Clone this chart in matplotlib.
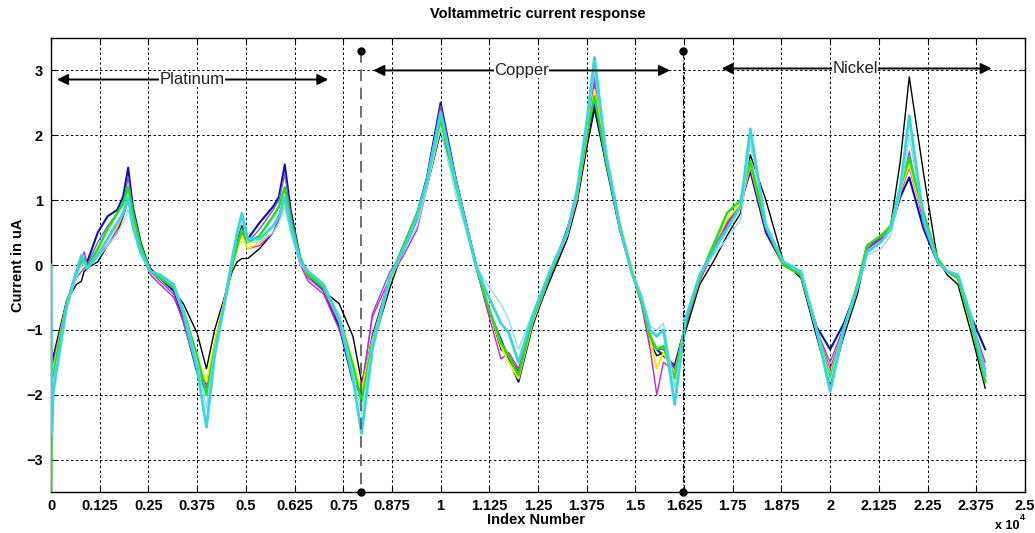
import matplotlib
matplotlib.use('Agg')
import matplotlib.pyplot as plt

plt.rcParams['font.family'] = ['Liberation Sans', 'DejaVu Sans']

# sample index breakpoints shared by every trace
index = [0, 20, 60, 400, 650, 780, 850, 930, 1200, 1450,
         1700, 1850, 1980, 2100, 2300, 2550, 2800, 3150, 3400, 3750,
         3990, 4200, 4450, 4650, 4780, 4900, 5050, 5350, 5700, 5850,
         6000, 6150, 6400, 6600, 7000, 7400, 7750, 7970, 8250, 8700,
         9050, 9400, 9650, 10000, 10400, 10900, 11200, 11550, 11750, 12000,
         12350, 12800, 13250, 13500, 13750, 13950, 14250, 14600, 14900, 15150,
         15380, 15550, 15720, 16010, 16300, 16650, 17000, 17350, 17700, 17950,
         18350, 18800, 19250, 19650, 20000, 20350, 20700, 20950, 21300, 21550,
         21800, 22030, 22400, 22750, 23000, 23280, 23620, 23980]

black = [-1.5, -1.5, -1.4, -0.55, -0.3, -0.25, -0.1, -0.05, 0.05, 0.3,
         0.5, 0.75, 1.0, 0.75, 0.3, -0.05, -0.2, -0.4, -0.6, -1.05,
         -1.6, -1.0, -0.5, -0.1, 0.05, 0.1, 0.1, 0.25, 0.5, 0.7,
         1.0, 0.7, 0.1, -0.15, -0.4, -0.6, -1.1, -1.8, -1.25, -0.35,
         0.25, 0.75, 1.2, 2.05, 1.3, 0.05, -0.6, -1.3, -1.4, -1.65,
         -0.9, -0.25, 0.4, 0.95, 1.8, 2.4, 1.55, 0.6, -0.05, -0.55,
         -1.2, -1.4, -1.35, -1.6, -1.0, -0.3, 0.05, 0.45, 0.8, 1.7,
         1.0, 0.05, -0.2, -1.1, -1.85, -1.1, -0.45, 0.25, 0.4, 0.6,
         1.6, 2.9, 1.4, 0.1, -0.15, -0.3, -1.05, -1.9]

blue = [-1.6, -1.6, -1.5, -0.6, -0.1, 0.05, 0.1, 0.05, 0.5, 0.75,
        0.85, 1.05, 1.5, 0.9, 0.35, -0.1, -0.2, -0.4, -0.85, -1.65,
        -1.95, -1.3, -0.55, 0.05, 0.35, 0.6, 0.4, 0.65, 0.9, 1.05,
        1.55, 0.85, 0.1, -0.15, -0.4, -0.95, -1.8, -2.0, -1.1, -0.2,
        0.3, 0.8, 1.35, 2.5, 1.3, 0.0, -0.65, -1.15, -1.45, -1.8,
        -0.95, -0.2, 0.55, 1.05, 1.9, 2.5, 1.55, 0.55, -0.1, -0.5,
        -1.15, -1.3, -1.4, -1.55, -0.9, -0.2, 0.3, 0.65, 0.95, 1.45,
        0.5, 0.0, -0.15, -0.95, -1.3, -0.9, -0.35, 0.3, 0.4, 0.55,
        1.05, 1.35, 0.55, 0.05, -0.1, -0.2, -0.8, -1.3]

purple = [-1.6, -1.6, -1.5, -0.55, -0.2, -0.1, -0.05, 0.0, 0.35, 0.6,
          0.8, 0.95, 1.35, 0.85, 0.3, -0.1, -0.25, -0.45, -0.9, -1.6,
          -1.9, -1.2, -0.55, 0.0, 0.25, 0.5, 0.35, 0.55, 0.85, 1.0,
          1.4, 0.8, 0.05, -0.2, -0.4, -0.9, -1.6, -1.95, -0.75, -0.1,
          0.2, 0.7, 1.3, 2.45, 1.3, 0.0, -0.65, -1.2, -1.4, -1.7,
          -0.9, -0.2, 0.5, 1.05, 2.0, 2.9, 1.6, 0.6, -0.1, -0.5,
          -1.1, -1.3, -1.3, -1.6, -0.9, -0.2, 0.25, 0.65, 0.95, 1.5,
          0.55, 0.0, -0.15, -1.0, -1.5, -0.95, -0.35, 0.25, 0.4, 0.55,
          1.1, 1.75, 0.6, 0.05, -0.1, -0.2, -0.85, -1.5]

magenta = [-1.7, -1.7, -1.6, -0.6, -0.2, 0.1, 0.2, 0.0, 0.15, 0.3,
           0.55, 0.75, 1.0, 0.65, 0.2, -0.15, -0.3, -0.5, -0.85, -1.5,
           -1.85, -1.2, -0.55, 0.0, 0.3, 0.5, 0.25, 0.3, 0.5, 0.7,
           0.95, 0.55, 0.0, -0.25, -0.45, -1.0, -1.6, -1.9, -0.8, -0.2,
           0.15, 0.55, 1.2, 2.3, 1.25, 0.0, -0.7, -1.45, -1.35, -1.6,
           -0.85, -0.15, 0.45, 1.0, 2.0, 2.8, 1.65, 0.6, -0.1, -0.6,
           -1.3, -2.0, -1.5, -1.65, -0.9, -0.25, 0.2, 0.6, 0.9, 1.5,
           0.55, 0.0, -0.15, -1.0, -1.6, -1.0, -0.3, 0.25, 0.4, 0.6,
           1.1, 1.5, 0.7, 0.05, -0.1, -0.2, -0.85, -1.6]

yellow = [-1.7, -1.7, -1.6, -0.6, -0.15, 0.0, 0.05, -0.05, 0.2, 0.4,
          0.6, 0.8, 1.0, 0.7, 0.25, -0.1, -0.2, -0.35, -0.75, -1.45,
          -1.8, -1.2, -0.55, 0.0, 0.25, 0.45, 0.25, 0.35, 0.6, 0.75,
          0.95, 0.6, 0.05, -0.15, -0.35, -0.85, -1.5, -1.95, -1.15, -0.25,
          0.25, 0.75, 1.25, 2.2, 1.25, 0.0, -0.6, -1.25, -1.5, -1.75,
          -0.9, -0.15, 0.5, 1.05, 1.95, 2.7, 1.7, 0.65, -0.05, -0.5,
          -1.15, -1.6, -1.35, -1.7, -0.85, -0.2, 0.3, 0.7, 0.95, 1.55,
          0.6, 0.0, -0.15, -1.0, -1.7, -1.0, -0.3, 0.3, 0.45, 0.6,
          1.15, 1.55, 0.75, 0.1, -0.1, -0.2, -0.9, -1.75]

green = [-3.6, -1.8, -1.7, -0.6, -0.15, 0.05, 0.1, -0.05, 0.25, 0.55,
         0.8, 0.95, 1.2, 0.8, 0.3, -0.1, -0.2, -0.35, -0.7, -1.4,
         -2.0, -1.3, -0.6, 0.0, 0.3, 0.55, 0.35, 0.45, 0.75, 0.9,
         1.2, 0.7, 0.1, -0.15, -0.35, -0.8, -1.55, -2.1, -1.2, -0.2,
         0.3, 0.8, 1.3, 2.25, 1.2, 0.0, -0.6, -1.2, -1.4, -1.7,
         -0.85, -0.15, 0.5, 1.1, 2.0, 2.6, 1.6, 0.6, -0.1, -0.55,
         -1.1, -1.3, -1.25, -1.75, -0.85, -0.2, 0.3, 0.8, 1.0, 1.6,
         0.6, 0.0, -0.15, -1.0, -1.75, -1.0, -0.3, 0.3, 0.45, 0.6,
         1.2, 1.65, 0.8, 0.1, -0.1, -0.2, -0.9, -1.8]

lightcyan = [-1.9, -1.9, -1.8, -0.65, -0.2, 0.0, 0.05, -0.05, 0.1, 0.3,
             0.5, 0.65, 0.85, 0.55, 0.15, -0.1, -0.15, -0.3, -0.7, -1.5,
             -2.2, -1.3, -0.6, 0.05, 0.45, 0.7, 0.35, 0.35, 0.5, 0.65,
             0.9, 0.5, 0.0, -0.1, -0.3, -0.8, -1.65, -2.3, -1.2, -0.15,
             0.2, 0.6, 1.2, 2.1, 1.05, 0.0, -0.3, -0.6, -0.85, -1.3,
             -0.75, -0.1, 0.45, 1.1, 2.1, 3.0, 1.65, 0.55, -0.1, -0.45,
             -0.95, -1.0, -0.9, -1.9, -0.8, -0.15, 0.15, 0.4, 0.7, 1.9,
             0.65, 0.05, -0.1, -0.95, -1.8, -0.95, -0.35, 0.15, 0.25, 0.45,
             1.1, 2.0, 0.7, 0.05, -0.1, -0.15, -0.8, -1.65]

cyan = [0.0, -2.6, -1.95, -0.65, -0.1, 0.15, 0.05, -0.05, 0.15, 0.4,
        0.65, 0.8, 1.05, 0.6, 0.2, -0.1, -0.15, -0.3, -0.75, -1.6,
        -2.5, -1.4, -0.6, 0.1, 0.5, 0.8, 0.4, 0.4, 0.6, 0.75,
        1.05, 0.6, 0.05, -0.1, -0.3, -0.85, -1.75, -2.6, -1.3, -0.2,
        0.25, 0.75, 1.3, 2.35, 1.25, 0.0, -0.45, -0.9, -1.05, -1.5,
        -0.8, -0.1, 0.5, 1.15, 2.2, 3.2, 1.7, 0.6, -0.1, -0.5,
        -1.0, -1.1, -1.0, -2.15, -0.8, -0.15, 0.2, 0.55, 0.9, 2.1,
        0.6, 0.05, -0.1, -1.0, -1.95, -1.0, -0.35, 0.2, 0.35, 0.55,
        1.2, 2.3, 0.7, 0.05, -0.1, -0.15, -0.8, -1.7]

traces = [
    (black, 'k', 1.0),
    (blue, '#1010a0', 1.5),
    (purple, '#7a55d8', 1.0),
    (magenta, '#d020d0', 1.0),
    (yellow, '#f2f000', 1.5),
    (green, '#22dd22', 1.8),
    (lightcyan, '#88e2ea', 1.0),
    (cyan, '#3ad6de', 2.0),
]

xticks = [0, 1250, 2500, 3750, 5000, 6250, 7500, 8750, 10000, 11250, 12500,
          13750, 15000, 16250, 17500, 18750, 20000, 21250, 22500, 23750, 25000]
xticklabels = ['0', '0.125', '0.25', '0.375', '0.5', '0.625', '0.75', '0.875',
               '1', '1.125', '1.25', '1.375', '1.5', '1.625', '1.75', '1.875',
               '2', '2.125', '2.25', '2.375', '2.5']
yticks = [-3, -2, -1, 0, 1, 2, 3]

electrodes = ['Platinum', 'Copper', 'Nickel']
arrow_start = [154, 8273, 17215]
arrow_end = [7118, 15888, 24145]
arrow_y = [2.86, 3.0, 3.03]
label_x = [3611, 12077, 20637]
dividers = [7950, 16230]

fig = plt.figure(figsize=(10.35, 5.33), dpi=100)
ax = fig.add_axes([0.0493, 0.0769, 0.941, 0.8518])

for ys, col, lw in traces:
    ax.plot(index, ys, color=col, lw=lw, zorder=3)

ax.set_xlim(0, 25000)
ax.set_ylim(-3.5, 3.5)
ax.set_xticks(xticks)
ax.set_xticklabels(xticklabels)
ax.set_yticks(yticks)
ax.grid(True, color='k', linestyle=(0, (2.5, 2.5)), linewidth=0.7, zorder=1)
ax.set_axisbelow(True)
ax.tick_params(direction='in', length=4, top=True, right=True, labelsize=10.5)
ax.tick_params(axis='x', pad=5)
ax.tick_params(axis='y', pad=6)
for lab in ax.get_xticklabels() + ax.get_yticklabels():
    lab.set_fontweight('bold')
for sp in ax.spines.values():
    sp.set_linewidth(1.0)

# electrode dividers
ax.plot([dividers[0], dividers[0]], [3.3, -3.5], color='#555555', lw=1.2,
        linestyle=(0, (7, 4)), marker='o', ms=5, mfc='k', mec='k',
        clip_on=False, zorder=4)
ax.plot([dividers[1], dividers[1]], [3.3, -3.5], color='k', lw=0.8,
        linestyle='-.', marker='o', ms=5, mfc='k', mec='k',
        clip_on=False, zorder=4)

# electrode range arrows
for name, x0, x1, y, xl in zip(electrodes, arrow_start, arrow_end, arrow_y, label_x):
    ax.annotate('', xy=(x1, y), xytext=(x0, y),
                arrowprops=dict(arrowstyle='<|-|>', color='k', lw=1.4,
                                mutation_scale=16, shrinkA=0, shrinkB=0),
                zorder=5)
    ax.text(xl, y, name, ha='center', va='center', fontsize=12, color='#222222',
            bbox=dict(facecolor='white', edgecolor='none', pad=0.3), zorder=6)

fig.text(538 / 1035, 1 - 14 / 533, 'Voltammetric current response',
         ha='center', va='center', fontsize=10.5, fontweight='bold')
fig.text(536 / 1035, 1 - 520 / 533, 'Index Number',
         ha='center', va='center', fontsize=10.5, fontweight='bold')
fig.text(18 / 1035, 1 - 265 / 533, 'Current in uA', rotation=90,
         ha='center', va='center', fontsize=10.5, fontweight='bold')
fig.text(995 / 1035, 1 - 526 / 533, 'x 10', ha='left', va='center',
         fontsize=9, fontweight='bold')
fig.text(1020 / 1035, 1 - 518 / 533, '4', ha='left', va='center',
         fontsize=6.5, fontweight='bold')

fig.savefig('out.png', dpi=100)
